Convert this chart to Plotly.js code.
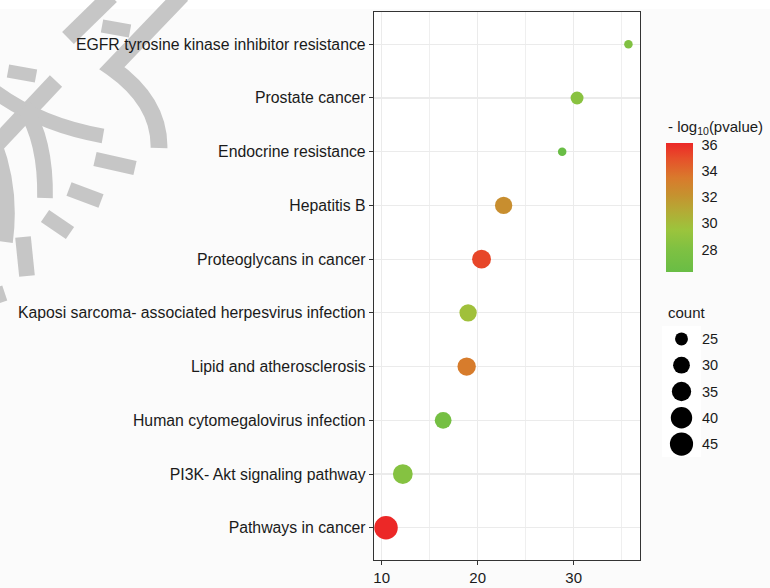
<!DOCTYPE html>
<html>
<head>
<meta charset="utf-8">
<script src="https://cdn.plot.ly/plotly-3.0.1.min.js"></script>
<style>html,body{margin:0;padding:0;background:#fbfbfb;}#chart{width:770px;height:588px;}</style>
</head>
<body>
<div id="chart"></div>
<script>
// ---- data (bottom to top) ----
const categories = [
  'Pathways in cancer',
  'PI3K- Akt signaling pathway',
  'Human cytomegalovirus infection',
  'Lipid and atherosclerosis',
  'Kaposi sarcoma- associated herpesvirus infection',
  'Proteoglycans in cancer',
  'Hepatitis B',
  'Endocrine resistance',
  'Prostate cancer',
  'EGFR tyrosine kinase inhibitor resistance'
];
const xValues = [10.45, 12.2, 16.4, 18.85, 19.0, 20.4, 22.7, 28.8, 30.35, 35.7];
const counts  = [46, 36, 30, 33, 31, 34, 31, 23, 25, 23];
const logP    = [36.2, 28.4, 27.3, 33.4, 29.8, 35.3, 32.4, 26.3, 28.6, 28.2];
const sizeBreaks = [25, 30, 35, 40, 45];
const colorTicks = [28, 30, 32, 34, 36];
const xTicks = [10, 20, 30];

// ---- helpers ----
const W = 770, H = 588;
const M = {l: 374, r: 10, t: 12, b: 28, autoexpand: false};
const PW = W - M.l - M.r, PH = H - M.t - M.b;
const px = x => (x - M.l) / PW;
const py = y => (H - M.b - y) / PH;

const cMin = Math.min(...counts), cMax = Math.max(...counts);
const dMin = 8.5, dMax = 23.5;
const sizeOf = c => dMin + (dMax - dMin) * Math.sqrt(Math.max(0, (c - cMin) / (cMax - cMin)));

const colorscale = [
  [0.00, '#69bd45'],
  [0.18, '#7fc142'],
  [0.33, '#9cc43c'],
  [0.48, '#b5a935'],
  [0.60, '#c6912f'],
  [0.73, '#d97a2c'],
  [0.88, '#e6502a'],
  [1.00, '#ec2827']
];

const FAM = 'Liberation Sans, Arial, sans-serif';
const fontY = {family: FAM, size: 15.8, color: '#1a1a1a'};
const fontX = {family: FAM, size: 15, color: '#1a1a1a'};
const fontLeg = {family: FAM, size: 14.5, color: '#1a1a1a'};
const fontLegTitle = {family: FAM, size: 15, color: '#1a1a1a'};

const main = {
  type: 'scatter', mode: 'markers',
  x: xValues, y: categories,
  xaxis: 'x', yaxis: 'y',
  marker: {
    size: counts.map(sizeOf),
    color: logP,
    colorscale: colorscale,
    cmin: Math.min(...logP), cmax: Math.max(...logP),
    line: {width: 0},
    opacity: 1,
    colorbar: {
      xref: 'container', yref: 'container',
      x: 666 / W, xanchor: 'left',
      y: 1 - 153 / H, yanchor: 'top',
      len: 129, lenmode: 'pixels',
      thickness: 27, thicknessmode: 'pixels',
      xpad: 0, ypad: 0,
      outlinewidth: 0,
      tickvals: colorTicks,
      ticks: 'outside', ticklen: 6, tickcolor: 'rgba(0,0,0,0)', tickwidth: 1,
      tickfont: fontLeg
    }
  },
  showlegend: false, hoverinfo: 'skip'
};

const sizeLegend = {
  type: 'scatter', mode: 'markers',
  x: sizeBreaks.map(() => 0.5),
  y: sizeBreaks.map(String),
  xaxis: 'x2', yaxis: 'y2',
  marker: {size: sizeBreaks.map(sizeOf), color: '#000000', opacity: 1, line: {width: 0}},
  showlegend: false, hoverinfo: 'skip'
};

// watermark strokes (pixel space) -> paper
const WM = 1.12;
const wmPaths = [
  ['M111,-4 L68,38', 15],
  ['M182,-5 L112,68 Q160,102 159,148', 15],
  ['M102,26 L130,31', 12],
  ['M8,71 L36,76', 12],
  ['M56,81 L-6,147', 15],
  ['M-6,91 Q40,125 103,136', 13],
  ['M24,107 Q46,140 45,198', 14],
  ['M95,159 L135,168', 13],
  ['M69,189 L101,201', 13],
  ['M45,216 L70,233', 13],
  ['M23,237 L27,276', 14],
  ['M-6,143 Q12,190 5,242', 14],
  ['M-2,287 L3,302', 8]
];
function toPaper(path) {
  return path.replace(/(-?\d+(?:\.\d+)?),(-?\d+(?:\.\d+)?)/g,
    (m, a, b) => px(+a).toFixed(5) + ',' + py(+b).toFixed(5));
}
const shapes = [{
  type: 'rect', xref: 'paper', yref: 'paper', layer: 'below',
  x0: px(0), x1: px(W), y0: py(0), y1: py(9),
  fillcolor: '#ffffff', line: {width: 0}
}].concat(wmPaths.map(([p, w]) => ({
  type: 'path', xref: 'paper', yref: 'paper', layer: 'below',
  path: toPaper(p), line: {color: '#c6c6c6', width: w * WM}
})));

const layout = {
  width: W, height: H,
  margin: M,
  paper_bgcolor: '#fbfbfb', plot_bgcolor: '#ffffff',
  font: fontY,
  showlegend: false,
  xaxis: {
    domain: [0, 266 / PW],
    range: [9.198, 36.906],
    tickvals: xTicks,
    showgrid: true, gridcolor: '#ebebeb', gridwidth: 1.2,
    minor: {dtick: 5, tick0: 5, showgrid: true, gridcolor: '#ebebeb', gridwidth: 0.8},
    zeroline: false,
    showline: true, mirror: true, linecolor: '#333333', linewidth: 1.2,
    ticks: 'outside', ticklen: 4, tickcolor: '#333333', tickwidth: 1,
    tickfont: fontX, anchor: 'y'
  },
  yaxis: {
    type: 'category', categoryarray: categories, categoryorder: 'array',
    range: [-0.6, 9.6],
    showgrid: true, gridcolor: '#ebebeb', gridwidth: 1.2,
    zeroline: false,
    showline: true, mirror: true, linecolor: '#333333', linewidth: 1.2,
    ticks: 'outside', ticklen: 4, tickcolor: '#333333', tickwidth: 1,
    tickfont: fontY, anchor: 'x'
  },
  xaxis2: {
    domain: [px(662), px(701)], range: [0, 1], anchor: 'y2',
    visible: false, fixedrange: true
  },
  yaxis2: {
    domain: [py(457.2), py(325.8)],
    type: 'category', categoryarray: sizeBreaks.map(String).reverse(), categoryorder: 'array',
    range: [-0.5, 4.5],
    anchor: 'x2', side: 'right',
    showgrid: false, zeroline: false, showline: false, ticks: '',
    tickfont: fontLeg
  },
  annotations: [
    {
      text: 'count', xref: 'paper', yref: 'paper',
      x: px(666), y: py(312), xanchor: 'left', yanchor: 'middle',
      showarrow: false, font: fontLegTitle
    },
    {
      text: '- log<sub>10</sub>(pvalue)', xref: 'paper', yref: 'paper',
      x: px(666), y: py(128), xanchor: 'left', yanchor: 'middle',
      showarrow: false, font: fontLegTitle
    }
  ],
  shapes: shapes
};

Plotly.newPlot('chart', [main, sizeLegend], layout, {staticPlot: true, displayModeBar: false});
</script>
</body>
</html>
